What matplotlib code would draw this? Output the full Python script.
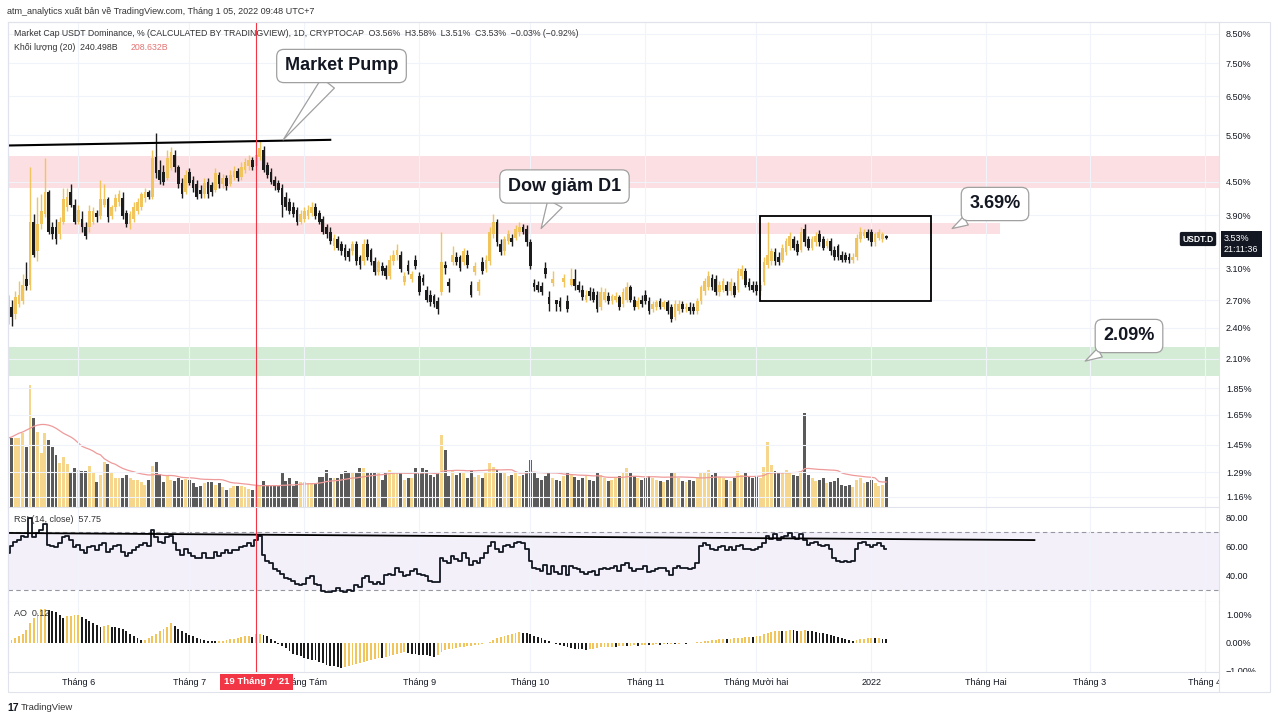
import numpy as np
import pandas as pd
import matplotlib
matplotlib.use("Agg")
import matplotlib.pyplot as plt
from matplotlib.patches import Rectangle
from matplotlib.lines import Line2D
from matplotlib.ticker import NullLocator

plt.rcParams['font.family'] = ['Liberation Sans', 'DejaVu Sans']

# ---- data: USDT dominance, daily, 2021-05-13 .. 2022-01-05 ----
START = "2021-05-13"

opens = [
    2.68, 2.63, 2.55, 2.66, 2.69, 2.96, 2.89, 3.79, 3.34, 3.75,
    3.91, 4.30, 3.70, 3.71, 3.59, 3.79, 4.03, 4.31, 4.08, 3.79,
    3.83, 3.71, 3.70, 3.79, 3.94, 3.88, 4.08, 4.17, 3.88, 4.03,
    4.12, 4.20, 3.94, 3.75, 3.83, 3.96, 4.04, 4.20, 4.30, 4.22,
    5.01, 4.74, 4.70, 4.58, 4.78, 5.06, 4.80, 4.48, 4.31, 4.70,
    4.54, 4.45, 4.35, 4.26, 4.50, 4.43, 4.35, 4.64, 4.45, 4.58,
    4.46, 4.60, 4.72, 4.60, 4.74, 4.82, 4.95, 4.82, 5.01, 5.17,
    4.84, 4.70, 4.54, 4.48, 4.39, 4.22, 4.13, 4.04, 3.99, 3.79,
    3.84, 3.89, 3.93, 4.04, 3.94, 3.83, 3.71, 3.63, 3.41, 3.51,
    3.44, 3.39, 3.34, 3.34, 3.44, 3.25, 3.20, 3.44, 3.36, 3.20,
    3.05, 3.13, 3.11, 3.00, 3.20, 3.28, 3.29, 2.92, 3.15, 2.96,
    3.22, 3.00, 2.98, 2.83, 2.77, 2.75, 2.69, 2.80, 3.15, 2.92,
    3.18, 3.26, 3.25, 3.18, 3.29, 2.89, 3.05, 2.81, 3.18, 3.09,
    3.20, 3.59, 3.78, 3.44, 3.34, 3.48, 3.54, 3.54, 3.62, 3.71,
    3.67, 3.47, 2.91, 2.89, 2.87, 3.11, 2.74, 2.91, 2.70, 2.69,
    2.92, 2.69, 2.89, 2.96, 2.89, 2.83, 2.71, 2.81, 2.80, 2.77,
    2.62, 2.71, 2.75, 2.69, 2.71, 2.74, 2.66, 2.71, 2.86, 2.71,
    2.63, 2.71, 2.77, 2.69, 2.60, 2.62, 2.69, 2.63, 2.68, 2.62,
    2.51, 2.58, 2.66, 2.60, 2.63, 2.63, 2.58, 2.69, 2.81, 2.86,
    2.98, 2.96, 2.80, 2.83, 2.89, 2.81, 2.87, 2.83, 3.00, 3.06,
    2.92, 2.89, 2.89, 2.81, 2.92, 3.15, 3.20, 3.32, 3.26, 3.22,
    3.32, 3.41, 3.51, 3.44, 3.36, 3.67, 3.51, 3.39, 3.47, 3.59,
    3.51, 3.42, 3.48, 3.36, 3.41, 3.29, 3.28, 3.26, 3.21, 3.26,
    3.51, 3.57, 3.63, 3.62, 3.47, 3.54, 3.51, 3.56,
]

highs = [
    2.76, 2.71, 2.81, 2.93, 3.02, 3.19, 4.80, 3.91, 4.22, 4.26,
    4.99, 4.35, 3.79, 3.83, 3.86, 4.39, 4.39, 4.45, 4.17, 4.08,
    3.96, 3.79, 4.08, 4.03, 3.99, 4.54, 4.45, 4.22, 4.08, 4.26,
    4.35, 4.30, 3.99, 3.96, 4.12, 4.20, 4.31, 4.39, 4.35, 5.17,
    5.56, 4.95, 4.84, 5.17, 5.23, 5.17, 4.84, 4.58, 4.74, 4.78,
    4.62, 4.54, 4.43, 4.58, 4.58, 4.50, 4.78, 4.70, 4.66, 4.64,
    4.74, 4.82, 4.78, 4.89, 4.99, 5.04, 5.01, 5.17, 5.39, 5.26,
    4.91, 4.78, 4.62, 4.54, 4.45, 4.30, 4.20, 4.12, 4.04, 3.99,
    4.03, 4.08, 4.12, 4.10, 3.99, 3.88, 3.76, 3.70, 3.60, 3.56,
    3.48, 3.44, 3.39, 3.48, 3.48, 3.29, 3.51, 3.51, 3.39, 3.25,
    3.22, 3.18, 3.15, 3.29, 3.36, 3.44, 3.34, 3.05, 3.22, 3.07,
    3.28, 3.05, 3.02, 2.87, 2.82, 2.78, 2.74, 3.63, 3.20, 2.98,
    3.41, 3.32, 3.29, 3.39, 3.35, 2.93, 3.18, 2.96, 3.25, 3.28,
    3.70, 3.91, 3.83, 3.51, 3.57, 3.65, 3.60, 3.73, 3.78, 3.76,
    3.73, 3.51, 2.96, 2.93, 2.92, 3.18, 2.81, 3.06, 2.71, 2.74,
    3.03, 2.77, 3.11, 3.09, 2.94, 2.88, 2.82, 2.86, 2.85, 2.81,
    2.86, 2.85, 2.80, 2.78, 2.80, 2.77, 2.85, 2.92, 2.89, 2.75,
    2.74, 2.76, 2.82, 2.74, 2.69, 2.71, 2.73, 2.71, 2.71, 2.66,
    2.71, 2.70, 2.69, 2.67, 2.68, 2.67, 2.73, 2.89, 2.98, 3.06,
    3.03, 3.01, 2.94, 2.98, 2.94, 2.97, 2.92, 3.11, 3.14, 3.11,
    2.97, 2.94, 2.93, 2.94, 3.25, 3.79, 3.39, 3.38, 3.32, 3.45,
    3.54, 3.62, 3.57, 3.50, 3.70, 3.75, 3.57, 3.57, 3.62, 3.65,
    3.56, 3.53, 3.53, 3.41, 3.45, 3.34, 3.32, 3.31, 3.31, 3.60,
    3.70, 3.68, 3.68, 3.67, 3.63, 3.67, 3.63, 3.58,
]

lows = [
    2.44, 2.42, 2.49, 2.62, 2.66, 2.83, 2.83, 3.25, 3.20, 3.67,
    3.86, 3.59, 3.51, 3.44, 3.51, 3.75, 3.96, 4.03, 3.75, 3.75,
    3.63, 3.51, 3.63, 3.75, 3.79, 3.83, 4.03, 3.79, 3.83, 3.96,
    4.06, 3.83, 3.70, 3.67, 3.78, 3.91, 3.99, 4.13, 4.17, 4.17,
    4.58, 4.45, 4.43, 4.54, 4.74, 4.70, 4.39, 4.20, 4.26, 4.43,
    4.31, 4.17, 4.20, 4.20, 4.20, 4.24, 4.31, 4.39, 4.39, 4.35,
    4.41, 4.54, 4.52, 4.54, 4.68, 4.74, 4.74, 4.74, 4.95, 4.70,
    4.58, 4.45, 4.35, 4.30, 3.86, 3.99, 3.91, 3.86, 3.73, 3.75,
    3.79, 3.84, 3.88, 3.83, 3.75, 3.59, 3.54, 3.44, 3.36, 3.35,
    3.29, 3.22, 3.20, 3.29, 3.15, 3.09, 3.15, 3.22, 3.14, 3.01,
    3.01, 3.01, 2.96, 2.96, 3.15, 3.22, 3.05, 2.88, 3.02, 2.92,
    3.09, 2.76, 2.88, 2.68, 2.64, 2.62, 2.55, 2.76, 3.02, 2.80,
    3.15, 3.14, 3.07, 3.14, 3.11, 2.74, 3.01, 2.77, 3.02, 3.05,
    3.15, 3.54, 3.42, 3.28, 3.29, 3.44, 3.42, 3.50, 3.57, 3.59,
    3.42, 3.09, 2.81, 2.80, 2.77, 2.98, 2.58, 2.87, 2.58, 2.58,
    2.86, 2.57, 2.87, 2.83, 2.80, 2.70, 2.68, 2.71, 2.68, 2.57,
    2.59, 2.68, 2.66, 2.66, 2.68, 2.59, 2.62, 2.68, 2.68, 2.59,
    2.60, 2.62, 2.66, 2.55, 2.57, 2.59, 2.60, 2.60, 2.55, 2.46,
    2.48, 2.55, 2.57, 2.57, 2.55, 2.55, 2.55, 2.66, 2.77, 2.82,
    2.82, 2.76, 2.75, 2.80, 2.77, 2.77, 2.74, 2.80, 2.96, 2.86,
    2.82, 2.80, 2.76, 2.76, 2.88, 3.11, 3.15, 3.15, 3.14, 3.18,
    3.28, 3.36, 3.35, 3.28, 3.32, 3.42, 3.35, 3.35, 3.42, 3.42,
    3.35, 3.38, 3.29, 3.22, 3.21, 3.18, 3.18, 3.17, 3.17, 3.22,
    3.47, 3.53, 3.50, 3.42, 3.42, 3.50, 3.47, 3.51,
]

closes = [
    2.60, 2.51, 2.74, 2.77, 2.89, 2.87, 3.79, 3.29, 3.75, 3.96,
    4.30, 3.63, 3.59, 3.51, 3.79, 4.17, 4.22, 4.08, 3.79, 3.99,
    3.70, 3.56, 3.96, 3.96, 3.86, 4.17, 4.17, 3.86, 4.04, 4.20,
    4.26, 3.88, 3.75, 3.91, 4.04, 4.13, 4.26, 4.31, 4.22, 4.99,
    4.68, 4.54, 4.50, 4.99, 5.12, 4.80, 4.45, 4.26, 4.64, 4.48,
    4.39, 4.22, 4.26, 4.48, 4.26, 4.30, 4.68, 4.45, 4.58, 4.41,
    4.64, 4.72, 4.58, 4.80, 4.91, 4.95, 4.80, 5.06, 5.21, 4.74,
    4.64, 4.50, 4.41, 4.35, 4.08, 4.04, 3.96, 3.91, 3.78, 3.91,
    3.96, 3.99, 4.04, 3.88, 3.79, 3.63, 3.59, 3.48, 3.54, 3.39,
    3.34, 3.26, 3.25, 3.44, 3.20, 3.14, 3.44, 3.26, 3.18, 3.05,
    3.18, 3.06, 3.00, 3.22, 3.29, 3.36, 3.09, 3.00, 3.06, 3.02,
    3.13, 2.80, 2.92, 2.71, 2.68, 2.66, 2.60, 3.18, 3.11, 2.87,
    3.29, 3.18, 3.11, 3.34, 3.15, 2.77, 3.13, 2.92, 3.06, 3.22,
    3.62, 3.78, 3.47, 3.32, 3.51, 3.59, 3.47, 3.67, 3.71, 3.63,
    3.47, 3.13, 2.86, 2.83, 2.80, 3.02, 2.66, 2.96, 2.66, 2.62,
    2.98, 2.60, 2.96, 2.87, 2.83, 2.74, 2.77, 2.75, 2.71, 2.60,
    2.80, 2.80, 2.69, 2.75, 2.75, 2.62, 2.80, 2.86, 2.71, 2.62,
    2.69, 2.66, 2.69, 2.58, 2.66, 2.68, 2.63, 2.68, 2.58, 2.49,
    2.66, 2.66, 2.60, 2.63, 2.58, 2.58, 2.69, 2.86, 2.93, 3.00,
    2.86, 2.80, 2.89, 2.93, 2.81, 2.92, 2.77, 3.06, 3.09, 2.89,
    2.86, 2.83, 2.81, 2.89, 3.18, 3.29, 3.34, 3.20, 3.18, 3.39,
    3.48, 3.56, 3.39, 3.32, 3.63, 3.47, 3.39, 3.51, 3.56, 3.47,
    3.39, 3.48, 3.34, 3.26, 3.25, 3.22, 3.22, 3.21, 3.26, 3.54,
    3.63, 3.63, 3.54, 3.47, 3.59, 3.62, 3.59, 3.53,
]

# volume, billions USD
volumes = [
    840, 550, 550, 550, 590, 480, 975, 710, 600, 430,
    590, 535, 480, 415, 350, 400, 345, 270, 310, 300,
    290, 290, 330, 270, 200, 260, 360, 345, 270, 230,
    230, 230, 260, 230, 215, 215, 200, 175, 215, 325,
    360, 265, 200, 245, 215, 210, 235, 215, 225, 215,
    190, 160, 165, 190, 200, 200, 175, 190, 160, 140,
    150, 170, 170, 170, 160, 145, 140, 165, 165, 210,
    175, 170, 180, 165, 275, 210, 235, 170, 210, 200,
    200, 190, 190, 190, 240, 240, 295, 230, 230, 235,
    265, 290, 270, 280, 280, 310, 310, 280, 270, 275,
    270, 220, 280, 295, 280, 270, 270, 215, 230, 230,
    310, 270, 310, 295, 255, 240, 280, 575, 455, 250,
    300, 260, 270, 280, 230, 300, 240, 260, 230, 270,
    350, 320, 300, 270, 280, 250, 260, 270, 250, 260,
    290, 380, 270, 230, 220, 250, 270, 230, 220, 210,
    250, 270, 260, 240, 220, 230, 250, 220, 210, 270,
    260, 230, 210, 220, 230, 250, 270, 310, 270, 250,
    230, 220, 230, 250, 230, 220, 210, 200, 220, 270,
    280, 230, 210, 200, 220, 210, 230, 270, 280, 300,
    260, 270, 240, 230, 220, 210, 230, 290, 260, 270,
    250, 230, 240, 230, 320, 520, 340, 290, 270, 280,
    300, 270, 260, 250, 290, 750, 260, 230, 210, 220,
    230, 190, 200, 210, 230, 180, 170, 175, 160, 220,
    230, 190, 200, 215, 190, 170, 180, 240,
]
# 20-day volume MA for the first days, where its window reaches back before the chart
vol_ma_head = [550, 560, 575, 590, 600, 615, 630, 645, 655, 660,
               660, 655, 645, 630, 610, 590, 575, 560, 540]

rsi = [
    55, 60, 63, 64, 67, 66, 79, 66, 69, 71,
    75, 61, 60, 59, 62, 66, 67, 64, 59, 61,
    57, 55, 59, 60, 57, 61, 62, 56, 58, 60,
    61, 56, 53, 55, 57, 59, 61, 62, 60, 71,
    66, 63, 62, 66, 67, 62, 57, 54, 58, 55,
    53, 52, 52, 55, 52, 52, 56, 53, 55, 57,
    55, 57, 57, 59, 60, 62, 60, 64, 67, 54,
    50, 48, 44, 43, 41, 38, 37, 36, 34, 33,
    34, 38, 39, 34, 33, 29, 28, 28, 29, 31,
    29, 28, 30, 29, 33, 32, 38, 39, 35, 34,
    35, 34, 40, 41, 40, 45, 42, 39, 40, 43,
    44, 41, 40, 39, 36, 35, 35, 52, 50, 48,
    53, 51, 50, 55, 52, 47, 50, 48, 52, 55,
    60, 63, 58, 56, 60, 61, 59, 62, 63, 62,
    58, 50, 45, 44, 43, 47, 41, 46, 42, 41,
    46, 40, 46, 45, 44, 42, 41, 42, 43, 40,
    44, 45, 44, 45, 46, 43, 47, 48, 45, 43,
    44, 44, 46, 42, 43, 44, 45, 45, 43, 40,
    45, 46, 45, 45, 44, 45, 48, 60, 62, 61,
    58, 57, 59, 60, 57, 59, 57, 60, 61, 58,
    58, 57, 58, 59, 62, 67, 65, 68, 64, 66,
    67, 69, 66, 65, 68, 64, 61, 62, 63, 61,
    60, 61, 58, 52, 50, 49, 50, 49, 50, 58,
    62, 63, 61, 59, 61, 62, 60, 57.75,
]

ao = [
    0.05, 0.10, 0.17, 0.22, 0.32, 0.45, 0.70, 0.90, 1.08, 1.20,
    1.22, 1.17, 1.15, 1.10, 1.00, 0.90, 0.95, 0.98, 1.00, 1.01,
    0.94, 0.85, 0.78, 0.72, 0.62, 0.56, 0.60, 0.62, 0.57, 0.55,
    0.52, 0.48, 0.40, 0.32, 0.25, 0.17, 0.08, 0.10, 0.15, 0.22,
    0.30, 0.40, 0.48, 0.58, 0.70, 0.60, 0.50, 0.42, 0.35, 0.28,
    0.22, 0.17, 0.12, 0.09, 0.07, 0.06, 0.04, 0.06, 0.07, 0.09,
    0.11, 0.13, 0.16, 0.19, 0.22, 0.25, 0.20, 0.30, 0.32, 0.28,
    0.22, 0.12, 0.05, -0.05, -0.12, -0.20, -0.30, -0.40, -0.45, -0.50,
    -0.55, -0.60, -0.62, -0.65, -0.70, -0.75, -0.80, -0.84, -0.87, -0.90,
    -0.92, -0.88, -0.84, -0.80, -0.77, -0.74, -0.70, -0.67, -0.64, -0.60,
    -0.55, -0.57, -0.52, -0.48, -0.45, -0.42, -0.39, -0.36, -0.38, -0.40,
    -0.42, -0.44, -0.45, -0.47, -0.50, -0.52, -0.45, -0.35, -0.28, -0.25,
    -0.22, -0.20, -0.17, -0.15, -0.13, -0.12, -0.10, -0.08, -0.05, -0.02,
    0.03, 0.10, 0.15, 0.20, 0.25, 0.28, 0.32, 0.35, 0.38, 0.36,
    0.33, 0.30, 0.25, 0.20, 0.15, 0.10, 0.05, 0.00, -0.05, -0.10,
    -0.14, -0.18, -0.20, -0.22, -0.24, -0.25, -0.26, -0.24, -0.22, -0.20,
    -0.18, -0.17, -0.16, -0.15, -0.16, -0.14, -0.12, -0.13, -0.11, -0.10,
    -0.12, -0.10, -0.09, -0.10, -0.08, -0.07, -0.08, -0.06, -0.07, -0.05,
    -0.06, -0.04, -0.03, -0.04, -0.02, -0.01, 0.01, 0.03, 0.05, 0.07,
    0.09, 0.10, 0.12, 0.13, 0.12, 0.14, 0.15, 0.17, 0.18, 0.20,
    0.21, 0.20, 0.22, 0.25, 0.30, 0.35, 0.38, 0.40, 0.42, 0.41,
    0.43, 0.45, 0.44, 0.42, 0.43, 0.44, 0.42, 0.40, 0.38, 0.36,
    0.33, 0.30, 0.27, 0.23, 0.20, 0.16, 0.12, 0.09, 0.06, 0.08,
    0.11, 0.14, 0.16, 0.17, 0.15, 0.16, 0.14, 0.12,
]

month_starts = ["2021-06-01", "2021-07-01", "2021-08-01", "2021-09-01", "2021-10-01",
                "2021-11-01", "2021-12-01", "2022-01-01", "2022-02-01", "2022-03-01",
                "2022-04-01"]
month_labels = ["Tháng 6", "Tháng 7", "Tháng Tám", "Tháng 9", "Tháng 10", "Tháng 11",
                "Tháng Mười hai", "2022", "Tháng Hai", "Tháng 3", "Tháng 4"]
price_ticks = [8.50, 7.50, 6.50, 5.50, 4.50, 3.90, 3.10, 2.70, 2.40, 2.10,
               1.85, 1.65, 1.45, 1.29, 1.16]

# drawn levels
PUMP_ZONE = (4.39, 5.03)
D1_ZONE = (3.60, 3.77)
SUPPORT_ZONE = (1.95, 2.21)
TOP_LINE = (("2021-05-13", 5.26), ("2021-08-08", 5.39))
RANGE_BOX = ("2021-12-02", "2022-01-17", 2.69, 3.88)
RSI_LINE = (("2021-05-13", 69.0), ("2022-02-14", 64.1))
MARK_DAY = "2021-07-19"

# ---- styling ----
YEL = "#f2c55c"
BLK = "#1c1c1c"
VOL_YEL = "#f6d68c"
VOL_GRY = "#5a5a5a"
GRID = "#f0f3fa"
BORDER = "#e0e3eb"
TXT = "#131722"
RED = "#f23645"

W, H = 1280, 722


def fig_box(x0, y0, x1, y1):
    return [x0 / W, 1 - y1 / H, (x1 - x0) / W, (y1 - y0) / H]


def fpos(x, y):
    return x / W, 1 - y / H


dates = pd.date_range(START, periods=len(closes), freq="D")
t0 = dates[0]


def idx(d):
    return (pd.Timestamp(d) - t0).days


x = np.arange(len(closes))
o = np.array(opens)
c = np.array(closes)
up = c >= o
col = np.where(up, YEL, BLK)

fig = plt.figure(figsize=(12.8, 7.22), dpi=100)
fig.patch.set_facecolor("white")

ax = fig.add_axes(fig_box(8, 22, 1219, 507))
axr = fig.add_axes(fig_box(8, 507, 1219, 602), sharex=ax)
axa = fig.add_axes(fig_box(8, 602, 1219, 672), sharex=ax)

# volume overlay lives in the price pane (twinx moves ax ticks left, so set up first)
axv = ax.twinx()

XMIN, XMAX = 0.05, 326.8
mpos = [idx(d) for d in month_starts]

for a in (ax, axr, axa):
    a.set_xlim(XMIN, XMAX)
    a.yaxis.tick_right()
    a.tick_params(axis="y", length=0, pad=5, labelsize=6.5, labelcolor=TXT)
    a.tick_params(axis="x", length=0)
    a.set_xticks(mpos)
    a.grid(axis="x", color=GRID, lw=0.8)
    for s in a.spines.values():
        s.set_color(BORDER)
        s.set_linewidth(0.8)
    a.axvline(idx(MARK_DAY), color=RED, lw=0.8, zorder=6)

ax.tick_params(axis="x", labelbottom=False)
axr.tick_params(axis="x", labelbottom=False)
axa.set_xticklabels(month_labels)
axa.tick_params(axis="x", labelsize=6.5, labelcolor=TXT, pad=4.5)

# ---- price pane ----
ax.set_yscale("log")
ax.set_ylim(1.11, 8.95)
ax.set_yticks(price_ticks)
ax.set_yticklabels([f"{v:.2f}%" for v in price_ticks])
ax.yaxis.set_minor_locator(NullLocator())
ax.grid(axis="y", color=GRID, lw=0.8)

axv.set_ylim(0, 3880)
axv.bar(x, volumes, width=0.78, color=np.where(up, VOL_YEL, VOL_GRY), linewidth=0)
vol_ma = pd.Series(volumes, dtype=float).rolling(20).mean()
vol_ma.iloc[:len(vol_ma_head)] = vol_ma_head
axv.plot(x, vol_ma, color="#ef9a9a", lw=0.9)
axv.axis("off")
ax.set_zorder(axv.get_zorder() + 1)
ax.patch.set_visible(False)

ax.axhspan(*PUMP_ZONE, color="#fcdfe2", lw=0, zorder=1)
ax.axhspan(*SUPPORT_ZONE, color="#d4ecd5", lw=0, zorder=1)
ax.add_patch(Rectangle((14.6, D1_ZONE[0]), 253.1, D1_ZONE[1] - D1_ZONE[0],
                       color="#fcdfe2", lw=0, zorder=1))

ax.vlines(x, lows, highs, colors=col, lw=1.0, zorder=3)
body_lo = np.minimum(o, c)
body_hi = np.maximum(np.maximum(o, c), body_lo * 1.005)
ax.bar(x, body_hi - body_lo, bottom=body_lo, width=0.74, color=col, linewidth=0, zorder=4)

(l0, p0), (l1, p1) = TOP_LINE
ax.plot([idx(l0), idx(l1)], [p0, p1], color="black", lw=1.5, zorder=5)
b0, b1, blo, bhi = RANGE_BOX
ax.add_patch(Rectangle((idx(b0), blo), idx(b1) - idx(b0), bhi - blo,
                       fill=False, ec="black", lw=1.3, zorder=5))

bubble = dict(boxstyle="round,pad=0.45,rounding_size=0.4", fc="white", ec="#a0a0a0", lw=0.9)
callouts = [
    ("Market Pump", (74.3, 5.39), (341.5, 722 - 66), 0.9),
    ("Dow giảm D1", (143.9, 3.68), (564.5, 722 - 186.5), 0.9),
    ("3.69%", (254.8, 3.68), (995, 722 - 204), 0.55),
    ("2.09%", (290.7, 2.08), (1129, 722 - 336), 0.55),
]
for label, tip, boxc, tail in callouts:
    pointer = dict(arrowstyle=f"wedge,tail_width={tail},shrink_factor=0.5", fc="white",
                   ec="#a0a0a0", lw=0.9, shrinkA=0, shrinkB=0)
    ax.annotate(label, xy=tip, xycoords="data", xytext=boxc, textcoords="figure pixels",
                ha="center", va="center", fontsize=13, fontweight="bold", color=TXT,
                bbox=bubble, arrowprops=pointer, annotation_clip=False, zorder=8)

# ---- RSI pane ----
axr.set_ylim(21.4, 86.9)
axr.set_yticks([80, 60, 40])
axr.set_yticklabels(["80.00", "60.00", "40.00"])
axr.axhspan(30, 70, color="#f3f0fa", lw=0, zorder=0)
for lvl in (70, 30):
    axr.axhline(lvl, color="#9598a1", lw=0.8, ls=(0, (4, 3)), zorder=1)
axr.plot(x, rsi, drawstyle="steps-mid", color=TXT, lw=1.3, zorder=3)
(r0, v0), (r1, v1) = RSI_LINE
axr.plot([idx(r0), idx(r1)], [v0, v1], color="black", lw=1.3, zorder=4)
axr.spines["top"].set_visible(False)

# ---- AO pane ----
ao_arr = np.array(ao)
ao_up = np.diff(ao_arr, prepend=ao_arr[0]) >= 0
axa.bar(x, ao_arr, width=0.5, color=np.where(ao_up, YEL, BLK), linewidth=0, zorder=3)
axa.set_ylim(-1.07, 1.47)
axa.set_yticks([1, 0, -1])
axa.set_yticklabels(["1.00%", "0.00%", "\u22121.00%"])
axa.spines["top"].set_visible(False)

# ---- texts ----
fig.text(*fpos(7, 12), "atm_analytics xuất bản về TradingView.com, Tháng 1 05, 2022 09:48 UTC+7",
         fontsize=6.5, color="#333333", va="center")
fig.text(*fpos(14, 33), "Market Cap USDT Dominance, % (CALCULATED BY TRADINGVIEW), 1D, CRYPTOCAP  "
         "O3.56%  H3.58%  L3.51%  C3.53%  \u22120.03% (\u22120.92%)",
         fontsize=6.3, color="#333333", va="center")
fig.text(*fpos(14, 47), "Khối lượng (20)  240.498B", fontsize=6.3, color="#333333", va="center")
fig.text(*fpos(131, 47), "208.632B", fontsize=6.3, color="#e57373", va="center")
fig.text(*fpos(14, 519), "RSI (14, close)  57.75", fontsize=6.5, color="#333333", va="center")
fig.text(*fpos(14, 614), "AO  0.12", fontsize=6.5, color="#333333", va="center")

fig.text(*fpos(1198, 239), "USDT.D", ha="center", va="center", fontsize=6.2,
         fontweight="bold", color="white",
         bbox=dict(boxstyle="round,pad=0.3,rounding_size=0.2", fc=TXT, ec="none"))
fig.text(*fpos(1224, 244), "3.53%\n21:11:36", ha="left", va="center", fontsize=6.5,
         color="white", linespacing=1.15,
         bbox=dict(boxstyle="square,pad=0.35", fc=TXT, ec="none"))

fig.text(*fpos(256.5, 682), "19 Tháng 7 '21", ha="center", va="center", fontsize=6.8,
         fontweight="bold", color="white", zorder=12,
         bbox=dict(boxstyle="square,pad=0.42", fc=RED, ec="none"))

fig.text(*fpos(7, 708), "17", fontsize=7.5, fontweight="bold", color=TXT, va="center")
fig.text(*fpos(21, 708), "TradingView", fontsize=6.8, color="#333333", va="center")

# frame and right-scale column
fig.add_artist(Rectangle(fpos(1219.5, 692), 50 / W, 20 / H, transform=fig.transFigure,
                         fc="white", ec="none", zorder=10))
fig.add_artist(Rectangle(fpos(8, 692), (1270 - 8) / W, (692 - 22) / H, transform=fig.transFigure,
                         fill=False, ec=BORDER, lw=0.8, zorder=11))
fig.add_artist(Line2D([1219 / W, 1219 / W], [1 - 692 / H, 1 - 672 / H],
                      transform=fig.transFigure, color=BORDER, lw=0.8, zorder=11))

fig.savefig("out.png", dpi=100, facecolor="white")
